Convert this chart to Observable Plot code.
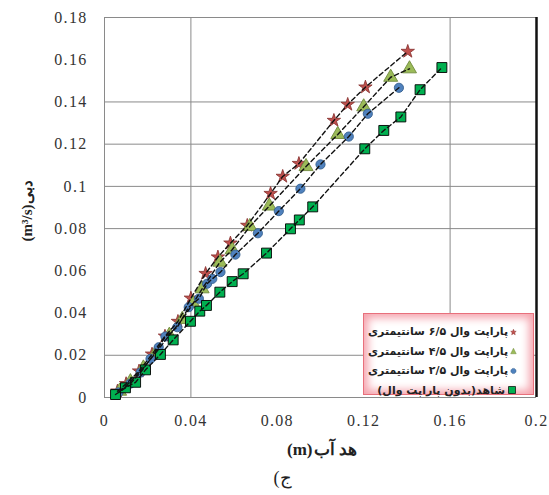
<!DOCTYPE html>
<html>
<head>
<meta charset="utf-8">
<script src="https://cdn.jsdelivr.net/npm/d3@7"></script>
<script src="https://cdn.jsdelivr.net/npm/@observablehq/plot@0.6"></script>
<style>
  body { margin: 0; background: #fff; }
  #chart { position: relative; width: 549px; height: 495px; }
  #chart svg text { direction: ltr; unicode-bidi: isolate; }
  #chart svg g[aria-label$="tick label"] { letter-spacing: 1.3px; }
  #legend {
    position: absolute; left: 363px; top: 313px; width: 171px; height: 82px;
    border: 1px solid #e8707c; background: #fff;
    box-shadow: inset 0 0 9px 4px #f5a3ad;
    font-family: "DejaVu Sans", sans-serif; font-size: 11px; font-weight: bold;
    color: #222; box-sizing: border-box; padding: 8px 16px 0 4px;
  }
  #legend .row { display: flex; justify-content: flex-end; align-items: center; height: 19.5px; }
  #legend .row span { direction: rtl; white-space: nowrap; }
  #legend .row svg { margin-left: 2px; }
</style>
</head>
<body>
<div id="chart"></div>
<script>
// Axis ticks and grid positions
const xTicks = [0, 0.04, 0.08, 0.12, 0.16, 0.2];
const yTicks = [0, 0.02, 0.04, 0.06, 0.08, 0.1, 0.12, 0.14, 0.16, 0.18];
const xGrid = [0.04, 0.16];
const yGrid = [0.02, 0.08, 0.1, 0.12, 0.14];

// Series labels (legend order)
const seriesNames = [
  "پاراپت وال ۶/۵ سانتیمتری",
  "پاراپت وال ۴/۵ سانتیمتری",
  "پاراپت وال ۲/۵ سانتیمتری",
  "شاهد(بدون پاراپت وال)"
];

// Axis titles and panel caption; the Latin unit and the Persian word are
// placed as two pieces so their left/right order is fixed
const xTitleUnit = "(m)";
const xTitleWord = "\u0647\u062F \u0622\u0628";
const yTitleUnit = "(m³/s)";
const yTitleWord = "\u062F\u0628\u06CC";
const captionParen = "(";
const captionLetter = "\u062C";

// Water head (m) and discharge (m³/s) for each configuration
const head65 = [0.006, 0.010, 0.016, 0.022, 0.028, 0.034, 0.040, 0.0468, 0.0525, 0.0583, 0.0661, 0.0769, 0.0825, 0.0900, 0.1062, 0.1126, 0.1208, 0.1404];
const flow65 = [0.003, 0.0065, 0.0125, 0.0205, 0.029, 0.036, 0.047, 0.0587, 0.0665, 0.0731, 0.0815, 0.0966, 0.1047, 0.1108, 0.1312, 0.1388, 0.1470, 0.1639];

const head45 = [0.007, 0.012, 0.018, 0.024, 0.030, 0.036, 0.041, 0.0452, 0.0534, 0.0591, 0.0673, 0.0763, 0.0933, 0.1080, 0.1200, 0.1325, 0.1412];
const flow45 = [0.003, 0.0075, 0.014, 0.0215, 0.0295, 0.037, 0.0445, 0.0515, 0.0641, 0.0700, 0.0810, 0.0907, 0.1094, 0.1246, 0.1377, 0.1517, 0.1557];

const head25 = [0.0065, 0.0120, 0.0167, 0.0213, 0.0251, 0.0282, 0.0337, 0.0390, 0.0437, 0.0475, 0.0499, 0.0537, 0.0606, 0.0710, 0.0807, 0.0907, 0.1000, 0.1131, 0.1219, 0.1363];
const flow25 = [0.0024, 0.0066, 0.0118, 0.0183, 0.0238, 0.0289, 0.0333, 0.0428, 0.0468, 0.0539, 0.0562, 0.0594, 0.0677, 0.0778, 0.0883, 0.0989, 0.1104, 0.1236, 0.1344, 0.1467];

const head0 = [0.0051, 0.0097, 0.0144, 0.0190, 0.0259, 0.0318, 0.0398, 0.0441, 0.0472, 0.0534, 0.0591, 0.0642, 0.0750, 0.0861, 0.0902, 0.0964, 0.1205, 0.1293, 0.1372, 0.1461, 0.1562];
const flow0 = [0.0014, 0.0046, 0.0072, 0.0131, 0.0204, 0.0273, 0.0361, 0.0409, 0.0436, 0.0499, 0.0549, 0.0586, 0.0684, 0.0799, 0.0841, 0.0903, 0.1178, 0.1265, 0.1329, 0.1458, 0.1563];

// Marker styles per series
const styles = [
  {symbol: "star",     fill: "#c0504d", stroke: "#8c3836", r: 4.2},
  {symbol: "triangle", fill: "#9bbb59", stroke: "#6f8a3c", r: 5.2},
  {symbol: "circle",   fill: "#4f81bd", stroke: "#35608f", r: 4.6},
  {symbol: "square",   fill: "#00b050", stroke: "#000000", r: 5.6}
];

const heads = [head65, head45, head25, head0];
const flows = [flow65, flow45, flow25, flow0];
const rows = heads.flatMap((h, i) => h.map((x, j) => ({series: i, x, y: flows[i][j]})));

const serif = "'Liberation Serif', 'Times New Roman', serif";

const dotMarks = styles.map((s, i) =>
  Plot.dot(rows.filter(d => d.series === i), {
    x: "x", y: "y", symbol: () => s.symbol, r: s.r,
    fill: s.fill, stroke: s.stroke, strokeWidth: 0.9
  })
);

const titleStyle = {fontWeight: "bold", fill: "#222", fontFamily: serif};

const chart = Plot.plot({
  width: 549,
  height: 495,
  marginLeft: 104,
  marginRight: 13,
  marginTop: 17,
  marginBottom: 98,
  x: {domain: [0, 0.2]},
  y: {domain: [0, 0.18]},
  symbol: {type: "identity"},
  style: {fontFamily: serif, background: "#fff"},
  marks: [
    Plot.gridX(xGrid, {stroke: "#8a8a8a", strokeOpacity: 1, strokeWidth: 1}),
    Plot.gridY(yGrid, {stroke: "#8a8a8a", strokeOpacity: 1, strokeWidth: 1}),
    Plot.ruleY([0.18], {stroke: "#8a8a8a", strokeWidth: 1}),
    Plot.ruleY([0], {stroke: "#8a8a8a", strokeWidth: 1}),
    Plot.ruleX([0], {stroke: "#8a8a8a", strokeWidth: 1}),
    Plot.ruleX([0.2], {stroke: "#111", strokeWidth: 2.5}),
    Plot.axisX(xTicks, {
      tickSize: 0, tickPadding: 17, fontSize: 16, fill: "#333",
      tickFormat: d => String(d), label: null
    }),
    Plot.axisY(yTicks, {
      tickSize: 0, tickPadding: 17, fontSize: 16, fill: "#333",
      tickFormat: d => String(d), label: null
    }),
    ...dotMarks,
    Plot.line(rows, {
      x: "x", y: "y", z: "series", stroke: "#111",
      strokeWidth: 1.4, strokeDasharray: "4.5,3"
    }),
    // x-axis title: unit on the left, Persian word on the right
    Plot.text([xTitleUnit], {frameAnchor: "bottom", dx: -8, dy: 57, textAnchor: "end", fontSize: 17, ...titleStyle}),
    Plot.text([xTitleWord], {frameAnchor: "bottom", dx: -7, dy: 57, textAnchor: "start", fontSize: 17, ...titleStyle}),
    // panel caption
    Plot.text([captionParen], {frameAnchor: "bottom", dx: -41, dy: 86, textAnchor: "end", fontSize: 18, fill: "#222", fontFamily: serif}),
    Plot.text([captionLetter], {frameAnchor: "bottom", dx: -41, dy: 86, textAnchor: "start", fontSize: 18, fill: "#222", fontFamily: serif}),
    // y-axis title, reading bottom to top: unit then Persian word
    Plot.text([yTitleUnit], {frameAnchor: "left", dx: -77, dy: -3, rotate: -90, textAnchor: "end", fontSize: 15, ...titleStyle}),
    Plot.text([yTitleWord], {frameAnchor: "left", dx: -77, dy: -4, rotate: -90, textAnchor: "start", fontSize: 15, ...titleStyle})
  ]
});

const holder = document.getElementById("chart");
holder.appendChild(chart);

// Legend overlay in the lower-right corner of the plot
const legend = document.createElement("div");
legend.id = "legend";
const symbolPaths = {
  star: "M5,1 L6.2,3.8 L9,4 L6.8,6 L7.6,9 L5,7.4 L2.4,9 L3.2,6 L1,4 L3.8,3.8 Z",
  triangle: "M5,1 L9,9 L1,9 Z",
  circle: "M5,1.2 A3.8,3.8 0 1 1 4.99,1.2 Z",
  square: "M1.5,1.5 H8.5 V8.5 H1.5 Z"
};
seriesNames.forEach((name, i) => {
  const row = document.createElement("div");
  row.className = "row";
  const s = styles[i];
  row.innerHTML = `<span>${name}</span><svg width="10" height="10" viewBox="0 0 10 10"><path d="${symbolPaths[s.symbol]}" fill="${s.fill}" stroke="${s.stroke}" stroke-width="0.7"/></svg>`;
  legend.appendChild(row);
});
holder.appendChild(legend);
</script>
</body>
</html>
